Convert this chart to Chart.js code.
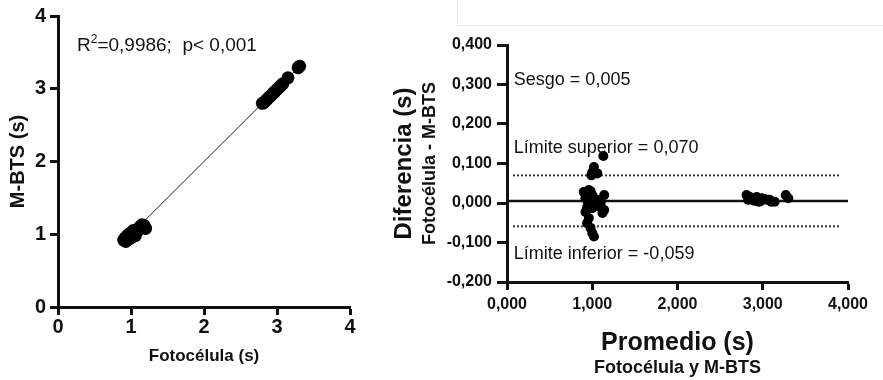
<!DOCTYPE html>
<html>
<head>
<meta charset="utf-8">
<script src="https://cdn.jsdelivr.net/npm/chart.js@4"></script>
<style>
  html, body { margin: 0; padding: 0; background: #fff; }
  body { width: 883px; height: 380px; position: relative; overflow: hidden; }
  #marco { position: absolute; left: 457px; top: -1px; width: 440px; height: 26px;
           border-left: 1px solid #eee; border-bottom: 1px solid #eee; }
  #izq { position: absolute; left: 0; top: 0; }
  #der { position: absolute; left: 380px; top: 0; }
</style>
</head>
<body>
<div id="marco"></div>
<canvas id="izq" width="380" height="380"></canvas>
<canvas id="der" width="503" height="380"></canvas>
<script>
// ──────────────────────────────────────────────
//  Datos
// ──────────────────────────────────────────────

// Correlación: Fotocélula vs M-BTS (s)
const fotocelula = [0.90, 0.92, 0.93, 0.95, 0.96, 0.97, 0.98, 1.00, 1.00, 1.02, 1.03, 1.05, 1.06, 1.08, 1.10, 1.12, 1.15, 1.18, 1.20,
                    2.80, 2.82, 2.85, 2.87, 2.90, 2.92, 2.95, 2.97, 3.00, 3.02, 3.05, 3.08, 3.15, 3.29, 3.31];
const mbts       = [0.92, 0.95, 0.90, 0.98, 0.93, 1.00, 0.96, 1.02, 0.95, 0.99, 1.05, 1.01, 0.98, 1.04, 1.06, 1.10, 1.13, 1.12, 1.08,
                    2.80, 2.81, 2.84, 2.86, 2.89, 2.91, 2.94, 2.96, 2.99, 3.01, 3.04, 3.07, 3.15, 3.29, 3.31];
const rectaX = [0.90, 3.30];
const rectaY = [0.90, 3.30];

// Bland-Altman: promedio vs diferencia (s)
const promedio   = [1.13, 1.02, 1.00, 1.06, 0.99, 0.90, 0.96, 1.00, 0.92, 1.06, 1.10, 0.94, 1.00, 1.14, 0.92, 0.96, 0.94, 0.98, 1.00, 1.02, 1.14, 0.97,
                    0.93, 0.98, 1.04, 1.08, 0.95, 1.12,
                    2.81, 2.83, 2.87, 2.93, 2.95, 2.99, 3.02, 3.05, 3.08, 3.10, 3.14, 3.27, 3.30, 2.85, 2.90, 2.97];
const diferencia = [0.119, 0.091, 0.078, 0.075, 0.070, 0.028, 0.033, 0.020, 0.012, 0.008, 0.000, -0.010, -0.013, -0.018, -0.023, -0.038, -0.051, -0.063, -0.076, -0.085, 0.020, -0.005,
                    0.022, 0.030, 0.005, -0.008, 0.002, -0.025,
                    0.020, 0.008, 0.012, 0.015, 0.003, 0.012, 0.010, 0.008, 0.008, 0.003, 0.003, 0.020, 0.012, 0.015, 0.006, 0.004];
const sesgo = 0.005;
const limiteSuperior = 0.070;
const limiteInferior = -0.059;
const rangoSesgo = [0, 4];
const rangoLimites = [0.07, 3.91];

// Etiquetas de los ejes
const ticksIzq  = ['0', '1', '2', '3', '4'];
const ticksDerX = ['0,000', '1,000', '2,000', '3,000', '4,000'];
const ticksDerY = ['-0,200', '-0,100', '0,000', '0,100', '0,200', '0,300', '0,400'];

// ──────────────────────────────────────────────
//  Configuración común
// ──────────────────────────────────────────────

const FUENTE = '"Liberation Sans", Arial, Helvetica, sans-serif';
const NEGRO = '#111';
Chart.defaults.font.family = FUENTE;
Chart.defaults.color = NEGRO;

// Plugin sencillo para textos sueltos (anotaciones y subtítulos)
const textos = {
  id: 'textos',
  afterDraw(chart, args, opts) {
    const ctx = chart.ctx;
    const { x, y } = chart.scales;
    ctx.save();
    ctx.fillStyle = NEGRO;
    for (const t of opts.items || []) {
      const px = t.dato ? x.getPixelForValue(t.x) : t.x;
      const py = t.dato ? y.getPixelForValue(t.y) : t.y;
      ctx.font = t.font;
      ctx.textAlign = t.align || 'left';
      ctx.textBaseline = t.baseline || 'alphabetic';
      ctx.save();
      ctx.translate(px, py);
      if (t.rot) ctx.rotate(t.rot);
      if (t.sup) {
        // texto con superíndice: [antes, sup, después]
        let cx = 0;
        ctx.fillText(t.sup[0], cx, 0);
        cx += ctx.measureText(t.sup[0]).width;
        ctx.font = t.supFont;
        ctx.fillText(t.sup[1], cx, -8);
        cx += ctx.measureText(t.sup[1]).width;
        ctx.font = t.font;
        ctx.fillText(t.sup[2], cx, 0);
      } else {
        ctx.fillText(t.text, 0, 0);
      }
      ctx.restore();
    }
    ctx.restore();
  },
};

function ejeLineal(min, max, paso, etiquetas, extra) {
  return Object.assign({
    type: 'linear',
    min, max,
    ticks: { stepSize: paso, color: NEGRO, maxRotation: 0, autoSkip: false,
             callback: v => etiquetas[Math.round((v - min) / paso)] },
    grid: { drawOnChartArea: false, drawTicks: true, tickWidth: 3, tickColor: NEGRO },
    border: { display: true, color: NEGRO, width: 3 },
  }, extra);
}

// ──────────────────────────────────────────────
//  1. Correlación
// ──────────────────────────────────────────────

const ejeXIzq = ejeLineal(0, 4, 1, ticksIzq, {
  afterFit: s => { s.height = 73; },
  title: { display: true, text: 'Fotocélula (s)', color: NEGRO,
           font: { size: 17, weight: 'bold' }, padding: { top: 0, bottom: 13 } },
});
ejeXIzq.ticks.font = { size: 20, weight: 'bold' };
ejeXIzq.ticks.padding = 0;
ejeXIzq.grid.tickLength = 8;

const ejeYIzq = ejeLineal(0, 4, 1, ticksIzq, {
  afterFit: s => { s.width = 58; },
  title: { display: true, text: 'M-BTS (s)', color: NEGRO,
           font: { size: 20, weight: 'bold' }, padding: { top: 6, bottom: 0 } },
});
ejeYIzq.ticks.font = { size: 20, weight: 'bold' };
ejeYIzq.ticks.padding = 4;
ejeYIzq.grid.tickLength = 8;

new Chart(document.getElementById('izq'), {
  type: 'scatter',
  data: {
    datasets: [
      {
        data: fotocelula.map((v, i) => ({ x: v, y: mbts[i] })),
        backgroundColor: '#000',
        borderWidth: 0,
        pointRadius: 6.5,
      },
      {
        data: rectaX.map((v, i) => ({ x: v, y: rectaY[i] })),
        showLine: true,
        borderColor: '#222',
        borderWidth: 1,
        pointRadius: 0,
      },
    ],
  },
  options: {
    responsive: false,
    animation: false,
    events: [],
    layout: { padding: { left: 0, top: 15, right: 30, bottom: 0 } },
    plugins: {
      legend: { display: false },
      tooltip: { enabled: false },
      textos: {
        items: [
          { dato: true, x: 0.26, y: 3.52, font: `19px ${FUENTE}`, supFont: `12px ${FUENTE}`,
            sup: ['R', '2', '=0,9986;  p< 0,001'] },
        ],
      },
    },
    scales: { x: ejeXIzq, y: ejeYIzq },
  },
  plugins: [textos],
});

// ──────────────────────────────────────────────
//  2. Bland-Altman
// ──────────────────────────────────────────────

const ejeXDer = ejeLineal(0, 4, 1, ticksDerX, {
  afterFit: s => { s.height = 98; },
  title: { display: true, text: 'Promedio (s)', color: NEGRO,
           font: { size: 25, weight: 'bold' }, padding: { top: 0, bottom: 22 } },
});
ejeXDer.ticks.font = { size: 16, weight: 'bold' };
ejeXDer.ticks.padding = 5;
ejeXDer.grid.tickLength = 8;

const ejeYDer = ejeLineal(-0.2, 0.4, 0.1, ticksDerY, {
  afterFit: s => { s.width = 127; },
  title: { display: true, text: 'Diferencia (s)', color: NEGRO,
           font: { size: 24, weight: 'bold' }, padding: { top: 10, bottom: 0 } },
});
ejeYDer.ticks.font = { size: 16, weight: 'bold' };
ejeYDer.ticks.padding = 5;
ejeYDer.grid.tickLength = 10;

const lineaHorizontal = (xs, valor, extra) => Object.assign({
  data: xs.map(v => ({ x: v, y: valor })),
  showLine: true,
  pointRadius: 0,
  borderColor: '#111',
}, extra);

new Chart(document.getElementById('der'), {
  type: 'scatter',
  data: {
    datasets: [
      {
        data: promedio.map((v, i) => ({ x: v, y: diferencia[i] })),
        backgroundColor: '#000',
        borderWidth: 0,
        pointRadius: 5,
      },
      lineaHorizontal(rangoSesgo, sesgo, { borderWidth: 2.5 }),
      lineaHorizontal(rangoLimites, limiteSuperior, { borderWidth: 2, borderDash: [2, 2], borderColor: '#333' }),
      lineaHorizontal(rangoLimites, limiteInferior, { borderWidth: 2, borderDash: [2, 2], borderColor: '#333' }),
    ],
  },
  options: {
    responsive: false,
    animation: false,
    events: [],
    layout: { padding: { left: 0, top: 45, right: 35, bottom: 0 } },
    plugins: {
      legend: { display: false },
      tooltip: { enabled: false },
      textos: {
        items: [
          { dato: true, x: 0.08, y: 0.299, font: `18px ${FUENTE}`, text: 'Sesgo = 0,005' },
          { dato: true, x: 0.08, y: 0.127, font: `18px ${FUENTE}`, text: 'Límite superior = 0,070' },
          { dato: true, x: 0.08, y: -0.142, font: `18px ${FUENTE}`, text: 'Límite inferior = -0,059' },
          // subtítulos de los ejes
          { x: 50, y: 163.5, rot: -Math.PI / 2, align: 'center', baseline: 'middle',
            font: `bold 18px ${FUENTE}`, text: 'Fotocélula - M-BTS' },
          { x: 297.5, y: 368, align: 'center', baseline: 'middle',
            font: `bold 18px ${FUENTE}`, text: 'Fotocélula y M-BTS' },
        ],
      },
    },
    scales: { x: ejeXDer, y: ejeYDer },
  },
  plugins: [textos],
});
</script>
</body>
</html>
